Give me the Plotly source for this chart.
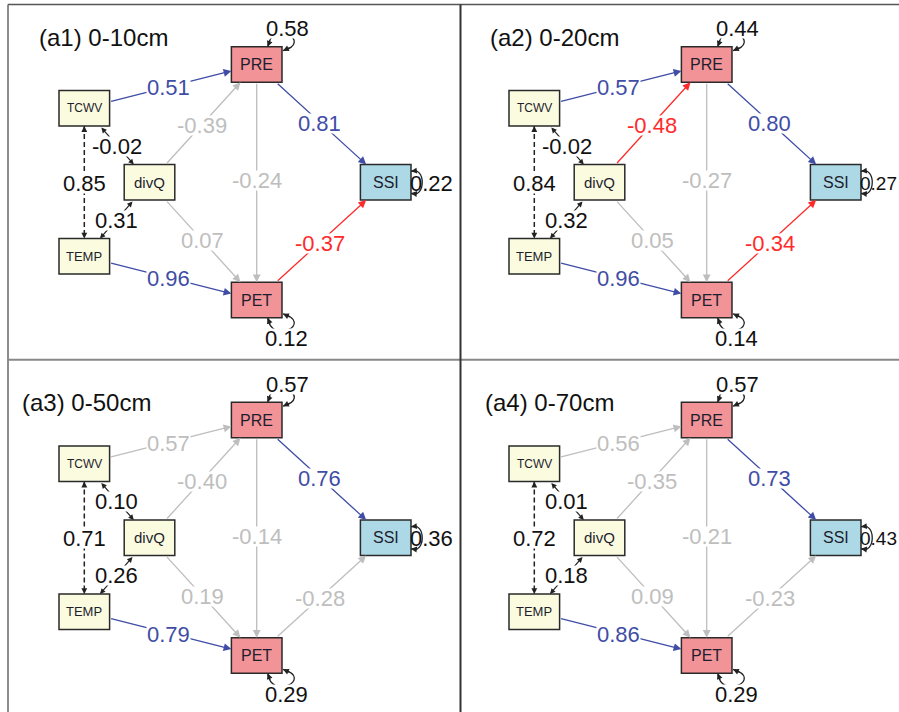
import plotly.graph_objects as go

# ---------------- data ----------------
panel_titles = ["(a1) 0-10cm", "(a2) 0-20cm", "(a3) 0-50cm", "(a4) 0-70cm"]
node_names = ["TCWV", "divQ", "TEMP", "PRE", "PET", "SSI"]

path_from = ["TCWV", "divQ", "TEMP", "divQ", "PRE", "PRE", "PET"]
path_to = ["PRE", "PRE", "PET", "PET", "PET", "SSI", "SSI"]
coef_a1 = [0.51, -0.39, 0.96, 0.07, -0.24, 0.81, -0.37]
coef_a2 = [0.57, -0.48, 0.96, 0.05, -0.27, 0.80, -0.34]
coef_a3 = [0.57, -0.40, 0.79, 0.19, -0.14, 0.76, -0.28]
coef_a4 = [0.56, -0.35, 0.86, 0.09, -0.21, 0.73, -0.23]
sig_a1 = [True, False, True, False, False, True, True]
sig_a2 = [True, True, True, False, False, True, True]
sig_a3 = [False, False, True, False, False, True, False]
sig_a4 = [False, False, True, False, False, True, False]

cov_from = ["TCWV", "TCWV", "divQ"]
cov_to = ["TEMP", "divQ", "TEMP"]
cov_a1 = [0.85, -0.02, 0.31]
cov_a2 = [0.84, -0.02, 0.32]
cov_a3 = [0.71, 0.10, 0.26]
cov_a4 = [0.72, 0.01, 0.18]

resid_nodes = ["PRE", "PET", "SSI"]
resid_a1 = [0.58, 0.12, 0.22]
resid_a2 = [0.44, 0.14, 0.27]
resid_a3 = [0.57, 0.29, 0.36]
resid_a4 = [0.57, 0.29, 0.43]

coefs = [coef_a1, coef_a2, coef_a3, coef_a4]
sigs = [sig_a1, sig_a2, sig_a3, sig_a4]
covs = [cov_a1, cov_a2, cov_a3, cov_a4]
resids = [resid_a1, resid_a2, resid_a3, resid_a4]

# ---------------- layout / style ----------------
W, H = 899, 712
node_pos = {"TCWV": (84.3, 108.3), "divQ": (149.5, 182.3), "TEMP": (84.3, 256.3),
            "PRE": (256.7, 64.5), "PET": (256.7, 300.0), "SSI": (385.7, 182.3)}
node_fill = {"TCWV": "#FBFBE0", "divQ": "#FBFBE0", "TEMP": "#FBFBE0",
             "PRE": "#F29398", "PET": "#F29398", "SSI": "#ADD8E6"}
node_font = {"TCWV": 12, "divQ": 15, "TEMP": 13, "PRE": 16, "PET": 16, "SSI": 16}
HW, HH = 25.3, 17.8
panel_off = [(0, 0), (450, 0), (0, 355.5), (450, 355.5)]
title_pos = [(37, 37), (488, 37), (20, 402), (483, 402)]
resid_side = {"PRE": "tr", "PET": "br", "SSI": "r"}
cov_dash = ["dash", "solid", "solid"]

BLUE, RED, GRAY, BLACK = "#3F4DA6", "#FF2B2B", "#BEBEBE", "#111111"
FONT = "Liberation Sans, Arial, sans-serif"
LBL = 22

fig = go.Figure()
shapes, annots = [], []


def clip_t(dx, dy):
    ts = []
    if abs(dx) > 1e-9:
        ts.append(HW / abs(dx))
    if abs(dy) > 1e-9:
        ts.append(HH / abs(dy))
    return min(ts)


def arrow(x0, y0, x1, y1, color, width, size, side="end"):
    annots.append(dict(x=x1, y=y1, ax=x0, ay=y0, xref="x", yref="y", axref="x", ayref="y",
                       text="", showarrow=True, arrowhead=2, startarrowhead=2,
                       arrowside=side, arrowsize=size, startarrowsize=size,
                       arrowwidth=width, arrowcolor=color, font=dict(size=1)))


def label(x, y, txt, color, bg=True, size=LBL):
    d = dict(x=x, y=y, xref="x", yref="y", text=txt, showarrow=False,
             font=dict(family=FONT, size=size, color=color),
             bgcolor="white" if bg else "rgba(0,0,0,0)", borderpad=0,
             height=19 if bg else None)
    # keep the text inside the page (slightly smaller, right-aligned at the edge)
    half = 0.5 * (0.556 * (len(txt) - 1) + 0.278) * size
    if x + half > W - 2:
        d.update(x=W - 1, xanchor="right", font=dict(family=FONT, size=size - 3, color=color))
    annots.append(d)


def bez(p, t):
    u = 1 - t
    return (u**3 * p[0][0] + 3 * u * u * t * p[1][0] + 3 * u * t * t * p[2][0] + t**3 * p[3][0],
            u**3 * p[0][1] + 3 * u * u * t * p[1][1] + 3 * u * t * t * p[2][1] + t**3 * p[3][1])


# panel borders
shapes.append(dict(type="line", x0=8, x1=W + 5, y0=4.5, y1=4.5, xref="x", yref="y",
                   line=dict(color="#555555", width=1.5)))
shapes.append(dict(type="line", x0=8, x1=8, y0=4.5, y1=H + 5, xref="x", yref="y",
                   line=dict(color="#666666", width=1.5)))
shapes.append(dict(type="line", x0=8, x1=W + 5, y0=359.8, y1=359.8, xref="x", yref="y",
                   line=dict(color="#888888", width=2)))
shapes.append(dict(type="line", x0=460.5, x1=460.5, y0=4.5, y1=H + 5, xref="x", yref="y",
                   line=dict(color="#333333", width=2)))

for k in range(4):
    ox, oy = panel_off[k]
    P = {n: (node_pos[n][0] + ox, node_pos[n][1] + oy) for n in node_names}

    # directed paths
    for i in range(len(path_from)):
        (x0, y0), (x1, y1) = P[path_from[i]], P[path_to[i]]
        dx, dy = x1 - x0, y1 - y0
        t = clip_t(dx, dy)
        c = coefs[k][i]
        col = (BLUE if c > 0 else RED) if sigs[k][i] else GRAY
        arrow(x0 + dx * t, y0 + dy * t, x1 - dx * t, y1 - dy * t, col, 1.3, 1.2)

    # covariances
    for i in range(len(cov_from)):
        (x0, y0), (x1, y1) = P[cov_from[i]], P[cov_to[i]]
        dx, dy = x1 - x0, y1 - y0
        t = clip_t(dx, dy)
        sx, sy, ex, ey = x0 + dx * t, y0 + dy * t, x1 - dx * t, y1 - dy * t
        if cov_dash[i] == "dash":
            shapes.append(dict(type="line", x0=sx, y0=sy, x1=ex, y1=ey, xref="x", yref="y",
                               line=dict(color="#222222", width=1.5, dash="5px,3px")))
            L = ((ex - sx) ** 2 + (ey - sy) ** 2) ** 0.5
            ux, uy = (ex - sx) / L, (ey - sy) / L
            arrow(ex - ux * 6, ey - uy * 6, ex, ey, "#222222", 1.3, 0.9)
            arrow(sx + ux * 6, sy + uy * 6, sx, sy, "#222222", 1.3, 0.9)
        else:
            arrow(sx, sy, ex, ey, "#222222", 1.2, 0.9, side="end+start")

    # residual loops
    for i, n in enumerate(resid_nodes):
        cx, cy = P[n]
        s = resid_side[n]
        if s == "tr":
            pts = [(cx + 11, cy - HH), (cx + 15, cy - HH - 28), (cx + HW + 32, cy - HH - 5), (cx + HW + 1, cy - HH + 4)]
            lx, ly, bg = cx + 31, cy - HH - 18, True
        elif s == "br":
            pts = [(cx + 11, cy + HH), (cx + 15, cy + HH + 28), (cx + HW + 32, cy + HH + 5), (cx + HW + 1, cy + HH - 4)]
            lx, ly, bg = cx + 30, cy + HH + 21, True
        else:
            pts = [(cx + HW, cy - 11), (cx + HW + 15, cy - 17), (cx + HW + 15, cy + 17), (cx + HW, cy + 11)]
            lx, ly, bg = cx + HW + 20, cy + 1, False
        path = "M {:.1f},{:.1f} C {:.1f},{:.1f} {:.1f},{:.1f} {:.1f},{:.1f}".format(
            pts[0][0], pts[0][1], pts[1][0], pts[1][1], pts[2][0], pts[2][1], pts[3][0], pts[3][1])
        shapes.append(dict(type="path", path=path, xref="x", yref="y",
                           line=dict(color="#222222", width=1.3)))
        a = bez(pts, 0.12)
        b = bez(pts, 0.88)
        arrow(a[0], a[1], pts[0][0], pts[0][1], "#222222", 1.3, 0.9)
        arrow(b[0], b[1], pts[3][0], pts[3][1], "#222222", 1.3, 0.9)
        label(lx, ly, "{:.2f}".format(resids[k][i]), BLACK, bg=bg)

    # path labels
    for i in range(len(path_from)):
        (x0, y0), (x1, y1) = P[path_from[i]], P[path_to[i]]
        c = coefs[k][i]
        col = (BLUE if c > 0 else RED) if sigs[k][i] else GRAY
        tt = 0.49
        label(x0 + (x1 - x0) * tt, y0 + (y1 - y0) * tt + 1, "{:.2f}".format(c), col)

    # covariance labels
    for i in range(len(cov_from)):
        (x0, y0), (x1, y1) = P[cov_from[i]], P[cov_to[i]]
        label((x0 + x1) / 2, (y0 + y1) / 2 + 1, "{:.2f}".format(covs[k][i]), BLACK)

    # nodes
    for n in node_names:
        cx, cy = P[n]
        shapes.append(dict(type="rect", x0=cx - HW, x1=cx + HW, y0=cy - HH, y1=cy + HH,
                           xref="x", yref="y", fillcolor=node_fill[n],
                           line=dict(color="#2A2A2A", width=1.5), layer="above"))
        annots.append(dict(x=cx, y=cy, xref="x", yref="y", text=n, showarrow=False,
                           font=dict(family=FONT, size=node_font[n], color="#1E1E2E")))

    # title
    tx, ty = title_pos[k]
    annots.append(dict(x=tx, y=ty, xref="x", yref="y", text=panel_titles[k], showarrow=False,
                       xanchor="left", font=dict(family=FONT, size=24, color="#111111")))

fig.update_layout(
    width=W, height=H, margin=dict(l=0, r=0, t=0, b=0),
    paper_bgcolor="white", plot_bgcolor="white", showlegend=False,
    xaxis=dict(range=[0, W], visible=False, fixedrange=True),
    yaxis=dict(range=[H, 0], visible=False, fixedrange=True),
    shapes=shapes, annotations=annots,
)
fig.write_html("out.html", config={"displayModeBar": False},
               post_script="document.body.style.margin='0px';document.body.style.padding='0px';"
                           "document.body.style.overflow='hidden';")
